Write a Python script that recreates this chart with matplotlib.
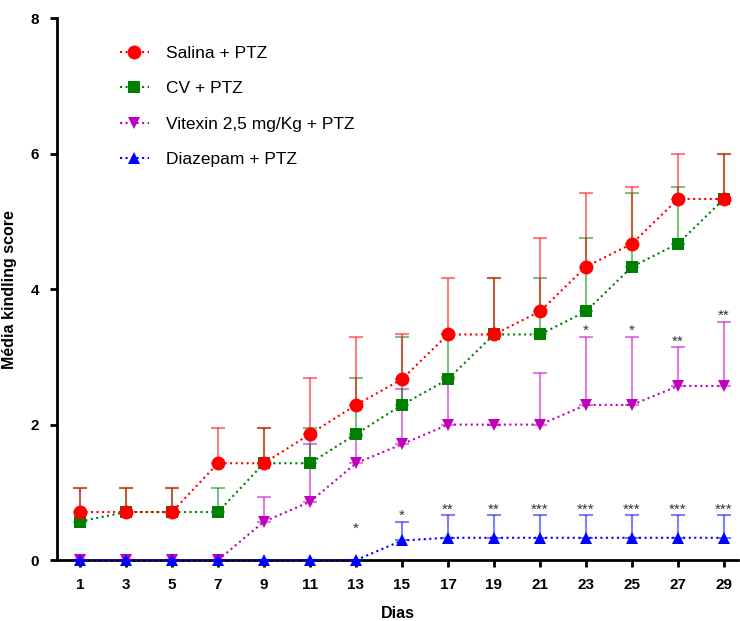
"""Kindling score over days, four treatment groups (PTZ model)."""

import matplotlib

matplotlib.use('Agg')

import matplotlib.pyplot as plt

plt.rcParams['font.family'] = ['Liberation Sans', 'DejaVu Sans']

# ----------------------------------------------------------------------------
# data
# ----------------------------------------------------------------------------
days = [1, 3, 5, 7, 9, 11, 13, 15, 17, 19, 21, 23, 25, 27, 29]

salina_mean = [0.71, 0.71, 0.71, 1.43, 1.43, 1.86, 2.29, 2.67, 3.33, 3.33, 3.67, 4.33, 4.67, 5.33, 5.33]
salina_err = [0.36, 0.36, 0.36, 0.52, 0.52, 0.83, 1.01, 0.66, 0.84, 0.84, 1.08, 1.09, 0.83, 0.67, 0.67]

cv_mean = [0.57, 0.71, 0.71, 0.71, 1.43, 1.43, 1.86, 2.29, 2.67, 3.33, 3.33, 3.67, 4.33, 4.67, 5.33]
cv_err = [0.50, 0.36, 0.36, 0.36, 0.52, 0.52, 0.83, 1.01, 0.66, 0.84, 0.84, 1.08, 1.09, 0.83, 0.67]

vitexin_mean = [0.0, 0.0, 0.0, 0.0, 0.57, 0.86, 1.43, 1.71, 2.0, 2.0, 2.0, 2.29, 2.29, 2.57, 2.57]
vitexin_err = [0.0, 0.0, 0.0, 0.0, 0.36, 0.85, 0.40, 0.81, 0.70, 0.0, 0.76, 1.01, 1.01, 0.57, 0.95]
vitexin_sig = ['', '', '', '', '', '', '', '', '', '', '', '*', '*', '**', '**']

diazepam_mean = [0.0, 0.0, 0.0, 0.0, 0.0, 0.0, 0.0, 0.29, 0.33, 0.33, 0.33, 0.33, 0.33, 0.33, 0.33]
diazepam_err = [0.0, 0.0, 0.0, 0.0, 0.0, 0.0, 0.0, 0.28, 0.33, 0.33, 0.33, 0.33, 0.33, 0.33, 0.33]
diazepam_sig = ['', '', '', '', '', '', '*', '*', '**', '**', '***', '***', '***', '***', '***']

x_ticks = days
y_ticks = [0, 2, 4, 6, 8]

# drawing order is bottom -> top; legend order is kept separately
GROUPS = [
    ('Vitexin 2,5 mg/Kg + PTZ', vitexin_mean, vitexin_err, '#BF00BF', 'v', 9),
    ('CV + PTZ', cv_mean, cv_err, '#008000', 's', 9),
    ('Salina + PTZ', salina_mean, salina_err, '#FF0000', 'o', 10),
    ('Diazepam + PTZ', diazepam_mean, diazepam_err, '#0000FF', '^', 9),
]
LEGEND_ORDER = ['Salina + PTZ', 'CV + PTZ', 'Vitexin 2,5 mg/Kg + PTZ', 'Diazepam + PTZ']


def _stars(ax, mean, err, sig, floor=0.0):
    for d, m, e, s in zip(days, mean, err, sig):
        if not s:
            continue
        ax.annotate(s, xy=(d, max(m + e, floor)), xytext=(0, 4),
                    textcoords='offset points', ha='center', va='center',
                    fontsize=11, color='#333333')


fig = plt.figure(figsize=(7.4, 6.21), dpi=100)
ax = fig.add_axes([0.077, 0.098, 0.920, 0.873])

handles = {}
for z, (label, mean, err, color, marker, ms) in enumerate(GROUPS):
    lower = [0.0] * len(err)
    ax.errorbar(days, mean, yerr=[lower, err], fmt='none', ecolor=color,
                alpha=0.5, elinewidth=1.5, capsize=5, capthick=1.5,
                zorder=2 + z, clip_on=False)
    line, = ax.plot(days, mean, linestyle=':', linewidth=1.5, color=color,
                    marker=marker, markersize=ms, markeredgewidth=0,
                    zorder=6 + z, clip_on=False, label=label)
    handles[label] = line

_stars(ax, vitexin_mean, vitexin_err, vitexin_sig)
_stars(ax, diazepam_mean, diazepam_err, diazepam_sig, floor=0.38)

ax.set_xlim(0, 29.6)
ax.set_ylim(0, 8)
ax.set_xticks(x_ticks)
ax.set_yticks(y_ticks)
for sp in ('top', 'right'):
    ax.spines[sp].set_visible(False)
for sp in ('left', 'bottom'):
    ax.spines[sp].set_linewidth(2.0)
ax.tick_params(direction='out', length=5, width=2.0, labelsize=11, pad=8)
for lbl in ax.get_xticklabels() + ax.get_yticklabels():
    lbl.set_fontweight('bold')

ax.set_xlabel('Dias', fontsize=11.5, fontweight='bold', labelpad=10)
ax.set_ylabel('Média kindling score', fontsize=11.5, fontweight='bold', labelpad=10)

ax.legend([handles[k] for k in LEGEND_ORDER], LEGEND_ORDER,
          loc='upper left', bbox_to_anchor=(0.092, 0.948), frameon=False,
          fontsize=12.5, handlelength=1.7, handletextpad=1.0, labelspacing=1.15,
          borderpad=0, borderaxespad=0)

fig.savefig('out.png', dpi=100)
plt.close(fig)
